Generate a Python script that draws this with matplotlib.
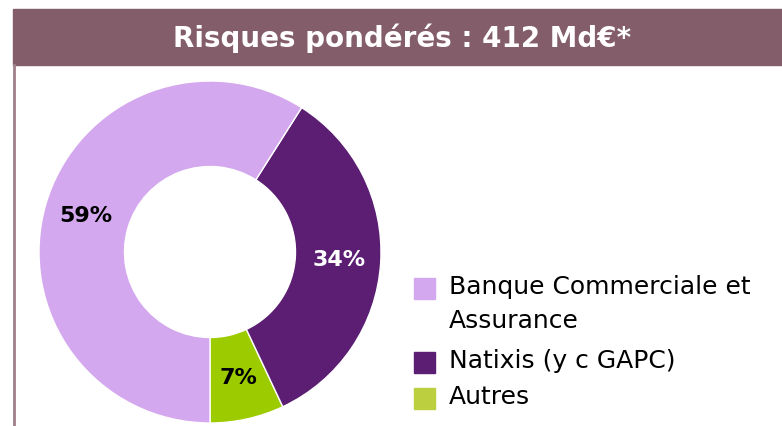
import matplotlib.pyplot as plt
from matplotlib.patches import Rectangle

# --- Data ---
title = 'Risques pondérés : 412 Md€*'
labels = ['Banque Commerciale et\nAssurance', 'Natixis (y c GAPC)', 'Autres']
values = [59, 34, 7]
colors = ['#d4a8ee', '#5b1e72', '#9ccb00']
legend_colors = ['#d4a8ee', '#5b1e72', '#bccf3f']
pct_colors = ['black', 'white', 'black']

W, H = 782, 426
fig = plt.figure(figsize=(W / 100, H / 100), dpi=100)
ax = fig.add_axes([0, 0, 1, 1])
ax.set_xlim(0, W); ax.set_ylim(H, 0)
ax.axis('off')

# --- Header bar + left border ---
ax.add_patch(Rectangle((13, 9), W - 13, 56, color='#835e6a', zorder=1))
ax.plot([14, 14], [65, H], color='#a07f8c', lw=2, zorder=1)
ax.text(402, 38, title, color='white', fontsize=20, fontweight='bold',
        ha='center', va='center')

# --- Donut (own axes so angles are not flipped) ---
R = 171
pax = fig.add_axes([(210 - R) / W, (H - 252 - R) / H, 2 * R / W, 2 * R / H])
order = [2, 1, 0]  # counter-clockwise from the bottom: Autres, Natixis, Banque
wedges, texts, autotexts = pax.pie(
    [values[i] for i in order], colors=[colors[i] for i in order],
    startangle=-90, counterclock=True, radius=1.0,
    autopct=lambda p: '%d%%' % round(p), pctdistance=0.755,
    wedgeprops=dict(width=0.5, edgecolor='white', linewidth=1))
for t, i in zip(autotexts, order):
    t.set_color(pct_colors[i]); t.set_fontsize(16); t.set_fontweight('bold')
pax.set_xlim(-1, 1); pax.set_ylim(-1, 1)
pax.set_aspect('equal')

# --- Legend (square aligned with first line of each label) ---
y0 = [288, 362, 398]
for lab, c, y in zip(labels, legend_colors, y0):
    ax.add_patch(Rectangle((414, y - 10), 21, 21, color=c))
    ax.text(449, y - 13, lab, fontsize=18, va='top', ha='left',
            linespacing=1.5)

fig.savefig('out.png', dpi=100)
